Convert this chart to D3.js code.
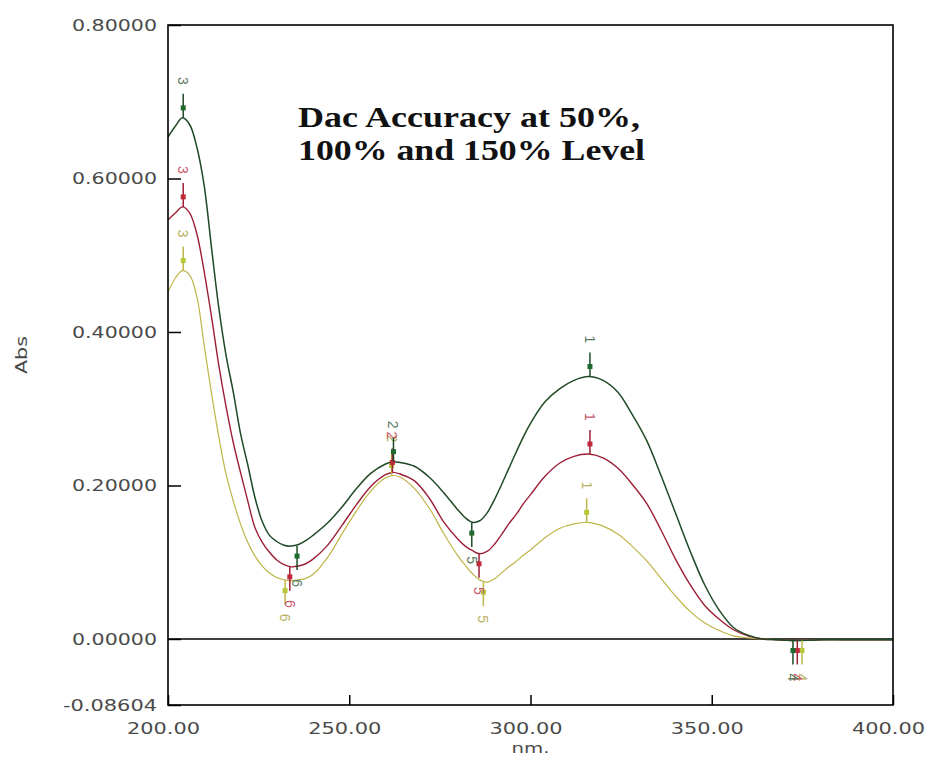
<!DOCTYPE html>
<html>
<head>
<meta charset="utf-8">
<script src="https://cdn.jsdelivr.net/npm/d3@7"></script>
<style>
  html, body { margin: 0; padding: 0; background: #ffffff; }
  svg { display: block; }
</style>
</head>
<body>
<svg id="chart" width="927" height="759"></svg>
<script>
// ---------------- DATA ----------------
const wavelengths = [200,202,204,206,208,210,212,214,216,218,220,222,224,226,228,230,232,234,236,238,240,
  244,248,252,256,260,262,264,268,272,276,280,282,284,286,288,290,292,294,296,298,300,
  304,308,312,316,320,324,328,332,336,340,344,348,352,356,360,364,368,372,380,390,400];

const absGreen = [0.654,0.668,0.679,0.670,0.640,0.590,0.510,0.432,0.370,0.322,0.268,0.227,0.184,0.153,0.135,0.127,0.122,0.121,0.123,0.128,0.135,
  0.151,0.172,0.196,0.216,0.228,0.231,0.230,0.225,0.211,0.191,0.168,0.158,0.152,0.154,0.164,0.181,0.201,0.222,0.243,0.263,0.281,
  0.309,0.326,0.337,0.342,0.337,0.322,0.293,0.259,0.213,0.164,0.115,0.071,0.038,0.015,0.005,0.000,-0.001,-0.002,-0.001,-0.001,-0.001];

const absRed = [0.546,0.555,0.563,0.555,0.527,0.478,0.420,0.357,0.303,0.256,0.217,0.180,0.145,0.126,0.113,0.103,0.097,0.094,0.095,0.098,0.104,
  0.122,0.148,0.175,0.199,0.214,0.217,0.215,0.206,0.184,0.153,0.130,0.121,0.115,0.111,0.114,0.123,0.136,0.150,0.162,0.176,0.188,
  0.212,0.229,0.238,0.241,0.236,0.223,0.202,0.177,0.142,0.104,0.071,0.044,0.026,0.012,0.004,0.000,-0.001,-0.002,-0.001,-0.001,-0.001];

const absYellow = [0.452,0.470,0.480,0.474,0.445,0.382,0.320,0.264,0.215,0.180,0.150,0.126,0.108,0.095,0.086,0.080,0.077,0.076,0.077,0.079,0.084,
  0.106,0.137,0.167,0.193,0.210,0.213,0.211,0.196,0.171,0.138,0.108,0.096,0.085,0.077,0.074,0.078,0.086,0.094,0.101,0.109,0.116,
  0.132,0.144,0.150,0.152,0.147,0.137,0.121,0.102,0.079,0.056,0.036,0.021,0.011,0.004,0.0015,0.000,-0.001,-0.002,-0.001,-0.001,-0.001];

// peak / valley picks: [wavelength, abs, label]
const peaksGreen   = [[204.2,0.679,"3"],[262.2,0.231,"2"],[316.4,0.342,"1"]];
const valleysGreen = [[235.6,0.121,"6"],[283.8,0.151,"5"],[372.4,-0.002,"4"]];
const peaksRed     = [[204.2,0.563,"3"],[261.9,0.217,"2"],[316.4,0.241,"1"]];
const valleysRed   = [[233.6,0.094,"6"],[285.8,0.111,"5"],[373.6,-0.002,"4"]];
const peaksYellow  = [[204.2,0.480,"3"],[261.7,0.213,"2"],[315.5,0.152,"1"]];
const valleysYellow= [[232.3,0.076,"6"],[287.0,0.074,"5"],[374.9,-0.002,"4"]];

const yTickValues = [0.8, 0.6, 0.4, 0.2, 0.0, -0.08604];
const xTickValues = [200, 250, 300, 350, 400];
const titleLines = ["Dac Accuracy at 50%,", "100% and 150% Level"];
const xAxisTitle = "nm.";
const yAxisTitle = "Abs";

// ---------------- LAYOUT ----------------
const plot = { left: 168, top: 25, right: 893, bottom: 705 };

const svg = d3.select("#chart");
const x = d3.scaleLinear().domain([200, 400]).range([plot.left, plot.right]);
const y = d3.scaleLinear().domain([-0.08604, 0.8]).range([plot.bottom, plot.top]);

const locale = d3.formatLocale({ decimal: ".", thousands: ",", grouping: [3], currency: ["", ""], minus: "-" });

const seriesList = [
  { values: absYellow, color: "#bfb448", dot: "#b4c838", label: "#b8b060", width: 1.2, peaks: peaksYellow, valleys: valleysYellow },
  { values: absRed,    color: "#9c1f36", dot: "#c02a3c", label: "#c85a6a", width: 1.4, peaks: peaksRed,    valleys: valleysRed },
  { values: absGreen,  color: "#1f4a26", dot: "#1e6a2e", label: "#5a7a5e", width: 1.5, peaks: peaksGreen,  valleys: valleysGreen }
];

const tickFont = "'DejaVu Sans', Verdana, sans-serif";
const tickColor = "#4a4a4a";

// ---------------- AXES ----------------
const yAxis = d3.axisLeft(y)
  .tickValues(yTickValues)
  .tickFormat(locale.format(".5f"))
  .tickSizeInner(-13)
  .tickSizeOuter(0)
  .tickPadding(11);

const gy = svg.append("g").attr("transform", `translate(${plot.left},0)`).call(yAxis);
gy.select(".domain").remove();
gy.selectAll(".tick line").attr("stroke", "#000").attr("stroke-width", 1.5);
gy.selectAll(".tick text")
  .attr("font-family", tickFont)
  .attr("font-size", 16)
  .attr("fill", tickColor)
  .attr("textLength", d => d < 0 ? 94 : 85)
  .attr("lengthAdjust", "spacingAndGlyphs");

const xAxis = d3.axisBottom(x)
  .tickValues(xTickValues)
  .tickFormat(locale.format(".2f"))
  .tickSizeInner(-10)
  .tickSizeOuter(0)
  .tickPadding(18);

const gx = svg.append("g").attr("transform", `translate(0,${plot.bottom})`).call(xAxis);
gx.select(".domain").remove();
gx.selectAll(".tick line").attr("stroke", "#000").attr("stroke-width", 1.5);
gx.selectAll(".tick text")
  .attr("font-family", tickFont)
  .attr("font-size", 16)
  .attr("fill", tickColor)
  .attr("dx", -5)
  .attr("textLength", 73)
  .attr("lengthAdjust", "spacingAndGlyphs");

// zero line
svg.append("line")
  .attr("x1", x(200)).attr("x2", x(400))
  .attr("y1", y(0)).attr("y2", y(0))
  .attr("stroke", "#000").attr("stroke-width", 1.5);

// ---------------- CURVES ----------------
const line = d3.line()
  .x((d, i) => x(wavelengths[i]))
  .y(d => y(d))
  .curve(d3.curveCatmullRom.alpha(0.5));

seriesList.forEach(s => {
  svg.append("path")
    .datum(s.values)
    .attr("fill", "none")
    .attr("stroke", s.color)
    .attr("stroke-width", s.width)
    .attr("stroke-linejoin", "round")
    .attr("d", line);
});

// ---------------- PEAK / VALLEY PICKS ----------------
const labelFont = "'Liberation Sans', Arial, sans-serif";
seriesList.forEach(s => {
  const picks = s.peaks.map(p => ({ p, dir: -1 })).concat(s.valleys.map(p => ({ p, dir: 1 })));
  picks.forEach(({ p, dir }) => {
    const px = x(p[0]), py = y(p[1]);
    svg.append("line")
      .attr("x1", px).attr("x2", px)
      .attr("y1", py).attr("y2", py + dir * 24)
      .attr("stroke", s.color).attr("stroke-width", 1.5);
    svg.append("rect")
      .attr("x", px - 2.5).attr("y", py + dir * 10 - 2.5)
      .attr("width", 5).attr("height", 5)
      .attr("fill", s.dot);
    svg.append("text")
      .attr("transform", `translate(${px},${py + dir * 37}) rotate(90)`)
      .attr("text-anchor", "middle")
      .attr("dominant-baseline", "central")
      .attr("font-family", labelFont)
      .attr("font-size", 14)
      .attr("fill", s.label)
      .text(p[2]);
  });
});

// ---------------- FRAME ----------------
svg.append("rect")
  .attr("x", plot.left).attr("y", plot.top)
  .attr("width", plot.right - plot.left).attr("height", plot.bottom - plot.top)
  .attr("fill", "none").attr("stroke", "#000").attr("stroke-width", 1.6);

// ---------------- TITLES ----------------
const titleFont = "'Liberation Serif', 'Times New Roman', serif";
svg.append("text")
  .attr("x", 298).attr("y", 127)
  .attr("font-family", titleFont).attr("font-weight", "bold").attr("font-size", 29)
  .attr("fill", "#111")
  .attr("textLength", 342).attr("lengthAdjust", "spacingAndGlyphs")
  .text(titleLines[0]);
svg.append("text")
  .attr("x", 298).attr("y", 160)
  .attr("font-family", titleFont).attr("font-weight", "bold").attr("font-size", 29)
  .attr("fill", "#111")
  .attr("textLength", 347).attr("lengthAdjust", "spacingAndGlyphs")
  .text(titleLines[1]);

svg.append("text")
  .attr("x", (plot.left + plot.right) / 2).attr("y", 753)
  .attr("text-anchor", "middle")
  .attr("font-family", tickFont).attr("font-size", 14).attr("fill", tickColor)
  .attr("textLength", 38).attr("lengthAdjust", "spacingAndGlyphs")
  .text(xAxisTitle);

svg.append("text")
  .attr("transform", "translate(27,355) rotate(-90)")
  .attr("text-anchor", "middle")
  .attr("font-family", tickFont).attr("font-size", 15).attr("fill", tickColor)
  .attr("textLength", 38).attr("lengthAdjust", "spacingAndGlyphs")
  .text(yAxisTitle);
</script>
</body>
</html>
